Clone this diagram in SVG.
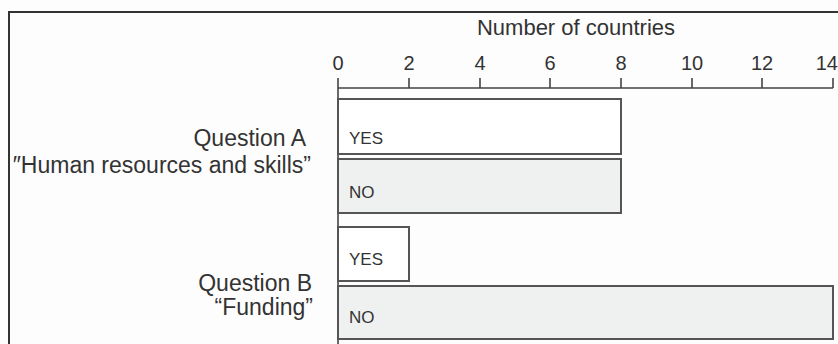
<svg xmlns="http://www.w3.org/2000/svg" width="838" height="344" viewBox="0 0 838 344">
<style>
text{font-family:"Liberation Sans",Arial,sans-serif;fill:#333}
.title{font-size:22px;text-anchor:middle}
.tick{font-size:20px;text-anchor:middle}
.q{font-size:23px;text-anchor:end}
.bl{font-size:17px}
.bar{stroke:#555;stroke-width:2}
.yes{fill:#ffffff}
.no{fill:#eff1f1}
.ax{stroke:#444;stroke-width:1.6;fill:none}
</style>
<rect width="838" height="344" fill="#fdfdfd"/>
<path d="M9,344 V12 H838" fill="none" stroke="#333" stroke-width="2"/>
<g id="axis">
<text class="title" x="576" y="35">Number of countries</text>
<g>
<text class="tick" x="338" y="70">0</text>
<text class="tick" x="409" y="70">2</text>
<text class="tick" x="480" y="70">4</text>
<text class="tick" x="550" y="70">6</text>
<text class="tick" x="621" y="70">8</text>
<text class="tick" x="692" y="70">10</text>
<text class="tick" x="762" y="70">12</text>
<text class="tick" x="838" y="70" style="text-anchor:end">14</text>
</g>
<path class="ax" d="M338,78 V344 M338,88 H833 M409,78 V88 M480,78 V88 M550,78 V88 M621,78 V88 M692,78 V88 M762,78 V88 M833,78 V88"/>
</g>
<g id="qa">
<text class="q" x="306" y="146">Question A</text>
<text class="q" x="311" y="173">″Human resources and skills”</text>
</g>
<g id="qb">
<text class="q" x="312" y="291">Question B</text>
<text class="q" x="313" y="315">“Funding”</text>
</g>
<g id="bar-a-yes">
<rect class="bar yes" x="338" y="99" width="283" height="55"/>
<text class="bl" x="349" y="144">YES</text>
</g>
<g id="bar-a-no">
<rect class="bar no" x="338" y="159" width="283" height="54"/>
<text class="bl" x="349" y="198">NO</text>
</g>
<g id="bar-b-yes">
<rect class="bar yes" x="338" y="227" width="71" height="54"/>
<text class="bl" x="349" y="265">YES</text>
</g>
<g id="bar-b-no">
<rect class="bar no" x="338" y="286" width="495" height="53"/>
<text class="bl" x="349" y="323">NO</text>
</g>
</svg>
